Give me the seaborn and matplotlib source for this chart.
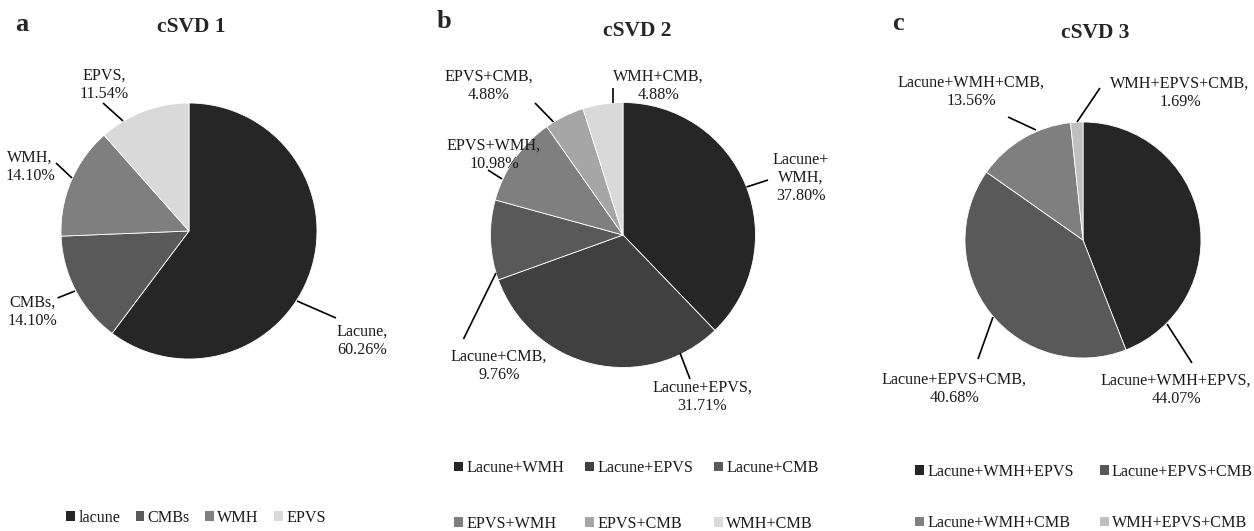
import matplotlib
matplotlib.use("Agg")
import matplotlib.pyplot as plt
from matplotlib.patches import Patch
import seaborn as sns

# ---------------- data ----------------
a_labels = ["Lacune", "CMBs", "WMH", "EPVS"]
a_legend = ["lacune", "CMBs", "WMH", "EPVS"]
a_values = [60.26, 14.10, 14.10, 11.54]

b_labels = ["Lacune+WMH", "Lacune+EPVS", "Lacune+CMB", "EPVS+WMH", "EPVS+CMB", "WMH+CMB"]
b_values = [37.80, 31.71, 9.76, 10.98, 4.88, 4.88]

c_labels = ["Lacune+WMH+EPVS", "Lacune+EPVS+CMB", "Lacune+WMH+CMB", "WMH+EPVS+CMB"]
c_values = [44.07, 40.68, 13.56, 1.69]

titles = ["cSVD 1", "cSVD 2", "cSVD 3"]
panel_letters = ["a", "b", "c"]

# ---------------- style ----------------
a_colors = ["#262626", "#595959", "#7f7f7f", "#d9d9d9"]
b_colors = ["#262626", "#404040", "#595959", "#7f7f7f", "#a6a6a6", "#d9d9d9"]
c_colors = ["#262626", "#595959", "#7f7f7f", "#bfbfbf"]

sns.set_theme(style="white")
plt.rcParams["font.family"] = ["Liberation Serif", "DejaVu Serif"]

W, H = 1254, 531
fig = plt.figure(figsize=(W / 100, H / 100), dpi=100)
ax = fig.add_axes([0, 0, 1, 1])

def Y(py):
    return H - py

FS = 11.6

# layout per panel: pie center (px), radius, label text pos, leader line
panels = [
    dict(values=a_values, labels=a_labels, colors=a_colors, center=(189, 231), r=128,
         text_xy=[(362, 341), (32, 312), (30, 167), (104, 85)],
         lines=[((297, 301), (336, 318)), ((75, 291), (57.5, 298)),
                ((56, 163), (72, 178)), ((103, 103), (123, 121))],
         title_xy=(191, 32), letter_xy=(15, 31)),
    dict(values=b_values, labels=b_labels, colors=b_colors, center=(623, 235), r=132.5,
         text_xy=[(801, 178), (702, 397), (499, 366), (494, 155), (489, 86), (658, 86)],
         lines=[((746.5, 187), (768, 180)), ((680, 353), (690, 379)),
                ((496, 273), (463.5, 339)), ((488, 170), (502, 179)),
                ((535, 103), (553.5, 122)), ((613, 88), (613, 103))],
         title_xy=(637, 36), letter_xy=(437, 28)),
    dict(values=c_values, labels=c_labels, colors=c_colors, center=(1083, 240), r=118,
         text_xy=[(1176, 390), (954, 389), (971, 92), (1180, 93)],
         lines=[((1167, 324), (1192, 363)), ((993, 317), (978, 359)),
                ((1008, 117), (1036, 130)), ((1100, 88), (1077, 122))],
         title_xy=(1095, 38), letter_xy=(892, 30)),
]

for i, p in enumerate(panels):
    cx, cy = p["center"]
    ax.pie(p["values"], colors=p["colors"], startangle=90, counterclock=False,
           center=(cx, Y(cy)), radius=p["r"],
           wedgeprops=dict(edgecolor="white", linewidth=0.6))
    for lab, val, (tx, ty), ((x0, y0), (x1, y1)) in zip(p["labels"], p["values"],
                                                        p["text_xy"], p["lines"]):
        txt = f"{lab},\n{val:.2f}%"
        if lab == "Lacune+WMH":
            txt = f"Lacune+\nWMH,\n{val:.2f}%"
        ax.text(tx, Y(ty), txt, ha="center", va="center", fontsize=FS,
                linespacing=1.2, color="#1a1a1a")
        ax.plot([x0, x1], [Y(y0), Y(y1)], color="black", linewidth=1.2,
                solid_capstyle="butt")
    ax.text(p["title_xy"][0], Y(p["title_xy"][1]), titles[i], ha="center",
            va="baseline", fontsize=15.5, fontweight="bold")
    ax.text(p["letter_xy"][0], Y(p["letter_xy"][1]), panel_letters[i], ha="left",
            va="baseline", fontsize=19, fontweight="bold")

ax.set_xlim(0, W)
ax.set_ylim(0, H)
ax.set_aspect("auto")
ax.axis("off")

def add_legend(labels, colors, ncol, cx, cy, colspace, rowspace):
    handles = [Patch(facecolor=c, edgecolor="none") for c in colors]
    fig.legend(handles, labels, ncol=ncol, loc="center",
               bbox_to_anchor=(cx / W, 1 - cy / H), frameon=False,
               fontsize=FS, handlelength=0.55, handleheight=0.55,
               handletextpad=0.2, columnspacing=colspace,
               labelspacing=rowspace, borderpad=0, labelcolor="#1a1a1a")

add_legend(a_legend, a_colors, 4, 196, 518, 0.95, 0.5)

def rowmajor(items, ncol):
    nrow = -(-len(items) // ncol)
    out = []
    for c in range(ncol):
        for r in range(nrow):
            k = r * ncol + c
            if k < len(items):
                out.append(items[k])
    return out

add_legend(rowmajor(b_labels, 3), rowmajor(b_colors, 3), 3, 636.5, 496, 1.3, 2.45)
add_legend(rowmajor(c_labels, 2), rowmajor(c_colors, 2), 2, 1084, 497.5, 1.6, 2.2)

fig.savefig("out.png", dpi=100)
